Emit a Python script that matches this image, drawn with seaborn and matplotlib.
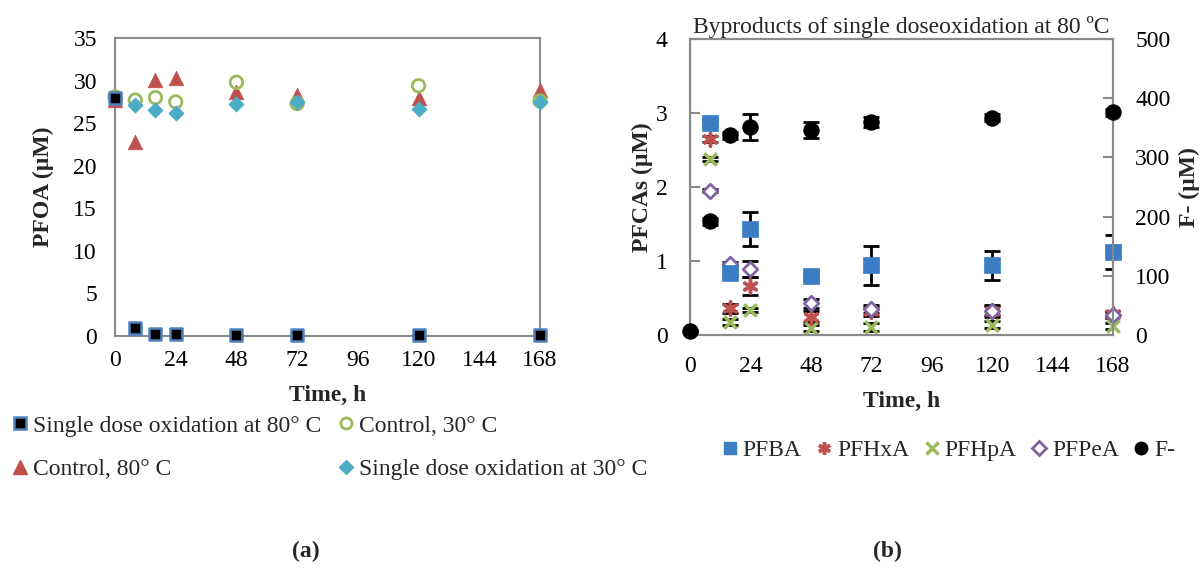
import numpy as np
import pandas as pd
import matplotlib
matplotlib.use("Agg")
import matplotlib.pyplot as plt
import seaborn as sns
from matplotlib.lines import Line2D

sns.set_style("white")
plt.rcParams['font.family'] = ['Liberation Serif', 'DejaVu Serif']

# ---------------- data (a) ----------------
time_a = [0, 8, 16, 24, 48, 72, 120, 168]
sd80 = [28.0, 0.9, 0.2, 0.2, 0.1, 0.1, 0.1, 0.1]
c30 = [28.1, 27.7, 28.0, 27.5, 29.8, 27.3, 29.4, 27.6]
c80 = [27.7, 22.8, 30.1, 30.3, 28.7, 28.3, 28.0, 28.9]
sd30 = [28.0, 27.1, 26.5, 26.2, 27.3, 27.5, 26.7, 27.5]
labels_a = ["Single dose oxidation at 80° C", "Control, 30° C",
            "Control, 80° C", "Single dose oxidation at 30° C"]

# ---------------- data (b) ----------------
time_b = [8, 16, 24, 48, 72, 120, 168]
pfba = [2.87, 0.84, 1.43, 0.80, 0.94, 0.94, 1.12]
pfba_err = [0.04, 0.03, 0.23, 0.03, 0.26, 0.20, 0.23]
pfhxa = [2.65, 0.36, 0.66, 0.25, 0.32, 0.32, 0.29]
pfhxa_err = [0.04, 0.06, 0.12, 0.08, 0.06, 0.08, 0.04]
pfhpa = [2.38, 0.17, 0.34, 0.09, 0.11, 0.14, 0.12]
pfhpa_err = [0.03, 0.04, 0.03, 0.04, 0.05, 0.05, 0.04]
pfpea = [1.95, 0.96, 0.89, 0.43, 0.35, 0.33, 0.27]
pfpea_err = [0.02, 0.02, 0.11, 0.06, 0.05, 0.06, 0.04]
time_f = [0, 8, 16, 24, 48, 72, 120, 168]
fion = [7, 192, 337, 352, 346, 360, 367, 376]
fion_err = [2, 6, 6, 22, 14, 9, 6, 6]

W, H = 1202, 568
fig = plt.figure(figsize=(W / 100, H / 100), dpi=100)

def box(x0, y0, x1, y1):
    return [x0 / W, 1 - y1 / H, (x1 - x0) / W, (y1 - y0) / H]

axA = fig.add_axes(box(115, 38, 540, 336))
axB = fig.add_axes(box(690, 39, 1113, 335))

spine_col = "#8a8a8a"
FS = 17

def style_axes(ax):
    for s in ax.spines.values():
        s.set_color(spine_col)
        s.set_linewidth(1.5)
    ax.tick_params(axis='both', colors=spine_col, labelcolor='black',
                   labelsize=FS, width=1.5)

# ---------------- panel (a) ----------------
dfa = pd.DataFrame({"t": time_a, "sd80": sd80, "c30": c30, "c80": c80, "sd30": sd30})
specs_a = {
    "sd80": ("s", "black", "#4F81BD", 1.8, 85),
    "c30": ("o", "none", "#9BBB59", 2.0, 80),
    "c80": ("^", "#C0504D", "#C0504D", 0.5, 110),
    "sd30": ("D", "#4BACC6", "#4BACC6", 0.5, 60),
}
for key in ["c80", "c30", "sd30", "sd80"]:
    m, fc, ec, lw, s = specs_a[key]
    sns.scatterplot(data=dfa, x="t", y=key, marker=m, s=s, ax=axA, zorder=3, clip_on=False)
    coll = axA.collections[-1]
    coll.set_facecolor(fc)
    coll.set_edgecolor(ec)
    coll.set_linewidth(lw)

axA.set_xlim(0, 168)
axA.set_ylim(0, 35)
axA.set_xticks(np.arange(0, 169, 24))
axA.set_yticks(np.arange(0, 36, 5))
style_axes(axA)
axA.tick_params(axis='x', direction='inout', length=12, pad=4)
axA.tick_params(axis='y', direction='out', length=7, pad=6)
axA.set_xlabel("Time, h", fontsize=FS, fontweight='bold', labelpad=10)
axA.set_ylabel("PFOA (µM)", fontsize=FS, fontweight='bold', labelpad=14)

handles_a = [
    Line2D([], [], ls='none', marker='s', ms=9, mfc='black', mec='#4F81BD', mew=1.8),
    Line2D([], [], ls='none', marker='^', ms=10, mfc='#C0504D', mec='#C0504D'),
    Line2D([], [], ls='none', marker='o', ms=8, mfc='none', mec='#9BBB59', mew=2),
    Line2D([], [], ls='none', marker='D', ms=7, mfc='#4BACC6', mec='#4BACC6'),
]
fig.legend(handles_a, [labels_a[0], labels_a[2], labels_a[1], labels_a[3]],
           ncol=2, loc='upper left', bbox_to_anchor=(8 / W, 1 - 415 / H),
           frameon=False, fontsize=FS, handletextpad=0.05, handlelength=1.0,
           columnspacing=0.55, labelspacing=0.95, borderpad=0, borderaxespad=0)

# ---------------- panel (b) ----------------
dfb = pd.DataFrame({"t": time_b, "PFBA": pfba, "PFHxA": pfhxa, "PFHpA": pfhpa, "PFPeA": pfpea})
dff = pd.DataFrame({"t": time_f, "F": fion})
axB2 = axB.twinx()

errkw = dict(fmt='none', ecolor='black', elinewidth=2, capsize=6, capthick=2, zorder=2)
axB.errorbar(time_b, pfhpa, yerr=pfhpa_err, **errkw)
axB.errorbar(time_b, pfhxa, yerr=pfhxa_err, **errkw)
axB.errorbar(time_b, pfpea, yerr=pfpea_err, **errkw)
axB.errorbar(time_b, pfba, yerr=pfba_err, **errkw)

specs_b = [
    ("PFHpA", "x", "#9BBB59", "#9BBB59", 2.5, 80),
    ("PFHxA", (6, 2, 0), "#C0504D", "#C0504D", 2.5, 90),
    ("PFPeA", "D", "white", "#8064A2", 2.0, 55),
    ("PFBA", "s", "#3B7CC4", "#3B7CC4", 0.5, 120),
]
for k, m, fc, ec, lw, s in specs_b:
    sns.scatterplot(data=dfb, x="t", y=k, marker=m, s=s, ax=axB, zorder=3, clip_on=False)
    coll = axB.collections[-1]
    coll.set_facecolor(fc)
    coll.set_edgecolor(ec)
    coll.set_linewidth(lw)

axB2.errorbar(time_f, fion, yerr=fion_err, **errkw)
sns.scatterplot(data=dff, x="t", y="F", marker='o', s=120, ax=axB2, zorder=3, clip_on=False)
c = axB2.collections[-1]
c.set_facecolor('black')
c.set_edgecolor('black')

axB.set_xlim(0, 168)
axB.set_ylim(0, 4)
axB2.set_ylim(0, 500)
axB.set_xticks(np.arange(0, 169, 24))
axB.set_yticks(np.arange(0, 5, 1))
axB2.set_yticks(np.arange(0, 501, 100))
style_axes(axB)
style_axes(axB2)
axB.tick_params(axis='x', direction='inout', length=14, pad=8)
axB.tick_params(axis='y', direction='in', length=7, pad=16)
axB2.tick_params(axis='y', direction='in', length=7, pad=16)
axB.set_xlabel("Time, h", fontsize=FS, fontweight='bold', labelpad=10)
axB.set_ylabel("PFCAs (µM)", fontsize=FS, fontweight='bold', labelpad=2)
axB2.set_ylabel("F- (µM)", fontsize=FS, fontweight='bold', labelpad=6)
axB.set_title("Byproducts of single doseoxidation at 80 ºC", fontsize=FS, pad=4)

handles_b = [
    Line2D([], [], ls='none', marker='s', ms=9, mfc='#3B7CC4', mec='#3B7CC4'),
    Line2D([], [], ls='none', marker=(6, 2, 0), ms=9, mfc='#C0504D', mec='#C0504D', mew=2.5),
    Line2D([], [], ls='none', marker='x', ms=8, mfc='#9BBB59', mec='#9BBB59', mew=2.5),
    Line2D([], [], ls='none', marker='D', ms=7, mfc='white', mec='#8064A2', mew=2),
    Line2D([], [], ls='none', marker='o', ms=9, mfc='black', mec='black'),
]
fig.legend(handles_b, ["PFBA", "PFHxA", "PFHpA", "PFPeA", "F-"],
           ncol=5, loc='center left', bbox_to_anchor=(718 / W, 1 - 450 / H),
           frameon=False, fontsize=FS, handletextpad=0.05, handlelength=1.0,
           columnspacing=0.45, borderpad=0, borderaxespad=0)

fig.text(306 / W, 1 - 551 / H, "(a)", fontsize=FS, fontweight='bold', ha='center', va='center')
fig.text(887 / W, 1 - 551 / H, "(b)", fontsize=FS, fontweight='bold', ha='center', va='center')

fig.savefig("out.png", dpi=100)
